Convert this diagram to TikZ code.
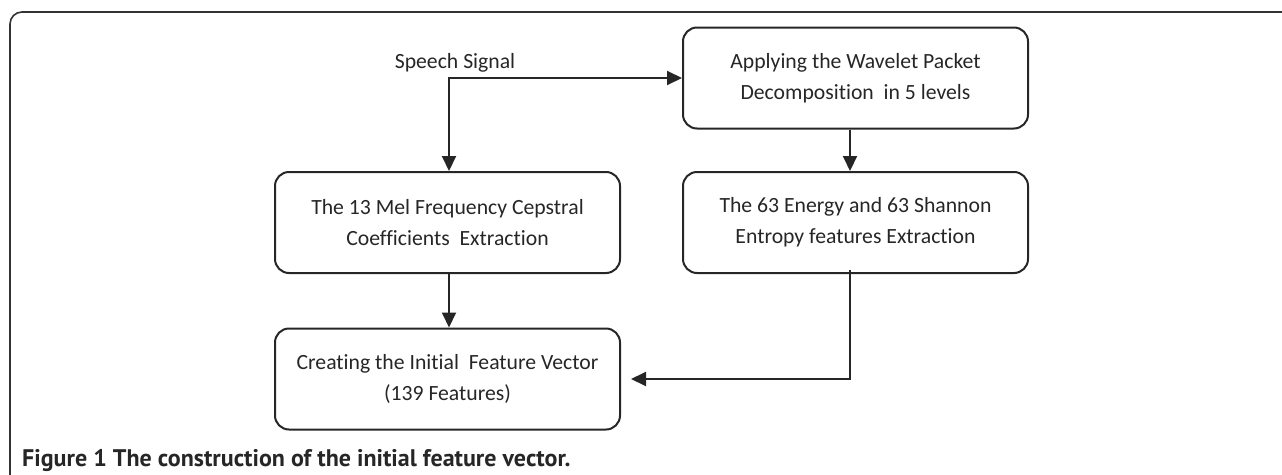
\documentclass[tikz,border=0pt]{standalone}
\usepackage{fontspec}
\setmainfont{Carlito}[Ligatures=NoCommon]
\newfontfamily\capfont{PT Sans}
\usetikzlibrary{arrows.meta}
\definecolor{ink}{HTML}{262626}
\definecolor{frm}{HTML}{333333}
\tikzset{
  x=1pt, y=-1pt,
  stepbox/.style={draw=ink, line width=2pt, rounded corners=14pt, minimum width=345pt,
    minimum height=101pt, inner sep=0pt, align=center, text=ink,
    font=\fontsize{21.7}{31}\selectfont},
  arr/.style={draw=ink, line width=2pt, -{Triangle[length=15pt,width=14pt]}},
  arrboth/.style={draw=ink, line width=2pt, {Triangle[length=15pt,width=14pt]}-{Triangle[length=15pt,width=14pt]}},
  framebox/.style={draw=frm, line width=1.6pt, rounded corners=12pt},
}
\begin{document}
\begin{tikzpicture}
\useasboundingbox (0,0) rectangle (1282,474);
\draw[framebox] (1284,12) -- (10,12) -- (10,476);

\node[stepbox] (app) at (855.5,78) {Applying the Wavelet Packet\\Decomposition~ in 5 levels};
\node[stepbox] (mfcc) at (447.5,222.5) {The 13 Mel Frequency Cepstral\\Coefficients~ Extraction};
\node[stepbox] (en) at (855.5,222.5) {The 63 Energy and 63 Shannon\\Entropy features Extraction};
\node[stepbox] (cre) at (447.5,379) {Creating the Initial~ Feature Vector\\(139 Features)};

\node[text=ink, font=\fontsize{21.7}{26}\selectfont] (sig) at (455,63) {Speech Signal};
\coordinate (split) at (449,78);

\draw[arrboth] ([xshift=1.5pt]mfcc.north) -- (split) -- (app.west);
\draw[arr] ([xshift=-5.5pt]app.south) -- ([xshift=-5.5pt]en.north);
\draw[arr] ([xshift=1.5pt]mfcc.south) -- ([xshift=1.5pt]cre.north);
\draw[arr] ([xshift=-5.5pt,yshift=4pt]en.south) |- ([xshift=10pt]cre.east);

\node[anchor=base west, inner sep=0pt, text=ink, font=\capfont\fontsize{24}{26}\selectfont\bfseries] (cap) at (22,466)
  {Figure 1 The construction of the initial feature vector.};
\end{tikzpicture}
\end{document}
